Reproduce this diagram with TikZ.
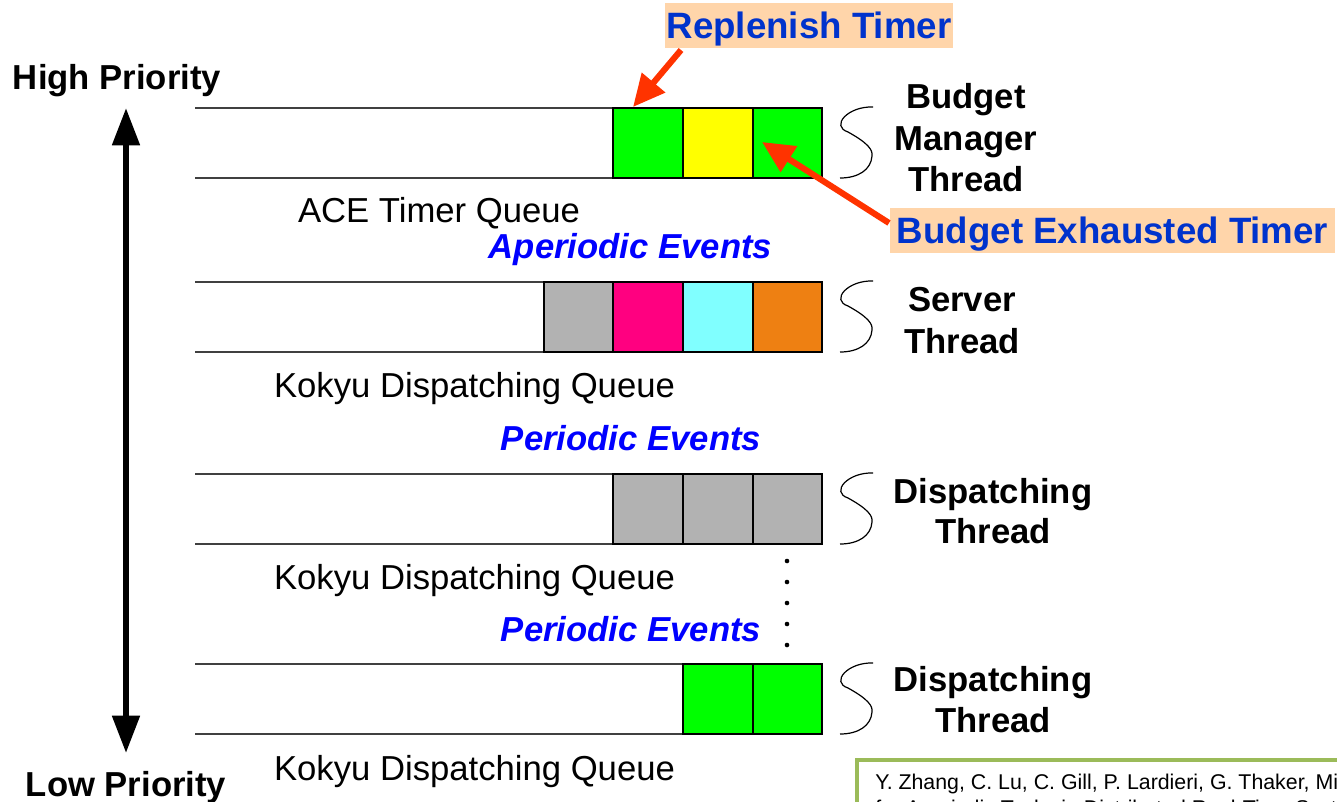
\documentclass[tikz,border=0pt]{standalone}
\usepackage{fontspec}
\setmainfont{Liberation Sans}
\usetikzlibrary{arrows.meta}
\definecolor{qgreen}{RGB}{0,255,0}
\definecolor{qyellow}{RGB}{255,255,0}
\definecolor{qgray}{RGB}{178,178,178}
\definecolor{qmagenta}{RGB}{255,0,128}
\definecolor{qcyan}{RGB}{128,255,255}
\definecolor{qorange}{RGB}{238,128,18}
\definecolor{peach}{RGB}{255,213,170}
\definecolor{tblue}{RGB}{0,51,204}
\definecolor{eblue}{RGB}{0,0,255}
\definecolor{ared}{RGB}{255,51,0}
\definecolor{cgreen}{RGB}{155,187,89}
\tikzset{
  qline/.style={line width=1.5pt, draw=black!75},
  cell/.style={draw=black, line width=1.3pt, minimum width=52.2pt, minimum height=52.5pt, inner sep=0pt},
  lab/.style={font=\fontsize{26}{31}\selectfont\bfseries, anchor=base, inner sep=0pt},
  qlab/.style={font=\fontsize{26}{31}\selectfont, anchor=base, inner sep=0pt},
  evlab/.style={font=\fontsize{26}{31}\selectfont\bfseries\itshape, text=eblue, anchor=base, inner sep=0pt},
  tlab/.style={font=\fontsize{27.5}{33}\selectfont\bfseries, text=tblue, fill=peach, minimum height=33.75pt, inner ysep=0pt, text depth=0pt},
  redarrow/.style={draw=ared, line width=4.6pt, -{Triangle[length=24pt,width=22pt]}},
  prio/.style={line width=4.5pt, {Triangle[length=28pt,width=20pt]}-{Triangle[length=28pt,width=20pt]}},
  sbrace/.style={draw=black, line width=0.9pt},
}
\begin{document}
\begin{tikzpicture}[x=0.75pt,y=-0.75pt]
\useasboundingbox (0,0) rectangle (1337,801);
\clip (0,0) rectangle (1337,801);

% priority arrow
\coordinate (ptop) at (126,108);
\coordinate (pbot) at (126,753);
\draw[prio] (pbot) -- (ptop);
\node[lab] (hp) at (117,89) {High Priority};
\node[lab] (lp) at (126,796) {Low Priority};

% queue lines and S-braces
\foreach \y/\n in {108/1,282/2,474/3,664/4}{
  \draw[qline] (195,\y) -- (822,\y);
  \draw[qline] (195,\y+70) -- (822,\y+70);
  \draw[sbrace] (873,\y-1) .. controls (848,\y-2) and (830,\y+18) .. (848,\y+24)
     .. controls (868,\y+35) and (873,\y+42) .. (872,\y+48)
     .. controls (871,\y+62) and (858,\y+70) .. (840,\y+70);
}

% queue 1 cells
\node[cell, fill=qgreen]  (c11) at (648,143) {};
\node[cell, fill=qyellow] (c12) at (718,143) {};
\node[cell, fill=qgreen]  (c13) at (787.5,143) {};
% queue 2 cells
\node[cell, fill=qgray]    (c21) at (578.5,317) {};
\node[cell, fill=qmagenta] (c22) at (648,317) {};
\node[cell, fill=qcyan]    (c23) at (718,317) {};
\node[cell, fill=qorange]  (c24) at (787.5,317) {};
% queue 3 cells
\node[cell, fill=qgray] (c31) at (648,509) {};
\node[cell, fill=qgray] (c32) at (718,509) {};
\node[cell, fill=qgray] (c33) at (787.5,509) {};
% queue 4 cells
\node[cell, fill=qgreen] (c41) at (718,699) {};
\node[cell, fill=qgreen] (c42) at (787.5,699) {};

% queue labels
\node[qlab] (q1) at (439,222) {ACE Timer Queue};
\node[qlab] (q2) at (474.5,397) {Kokyu Dispatching Queue};
\node[qlab] (q3) at (474.5,589) {Kokyu Dispatching Queue};
\node[qlab] (q4) at (474.5,780) {Kokyu Dispatching Queue};

\node[evlab] (e1) at (630.5,258) {Aperiodic Events};
\node[evlab] (e2) at (631,450) {Periodic Events};
\node[evlab] (e3) at (631,641) {Periodic Events};

% thread labels
\node[lab] (t1a) at (966,108) {Budget};
\node[lab] (t1b) at (966,150) {Manager};
\node[lab] (t1c) at (966,191) {Thread};
\node[lab] (t2a) at (962,311) {Server};
\node[lab] (t2b) at (962,353) {Thread};
\node[lab] (t3a) at (993,503) {Dispatching};
\node[lab] (t3b) at (993,543) {Thread};
\node[lab] (t4a) at (993,691) {Dispatching};
\node[lab] (t4b) at (993,732) {Thread};

% dots
\foreach \y in {561,582,603,624,645}{
  \fill (787,\y) circle[radius=2.3];
}

% timer labels
\node[tlab, minimum width=216pt, inner xsep=0pt] (rep) at (809,25.5) {Replenish Timer};
\node[tlab, anchor=west, inner xsep=5pt] (bex) at (890,230.5) {Budget Exhausted Timer};
\coordinate (repfrom) at (681,50);
\coordinate (repto) at (633,107);
\coordinate (bexfrom) at (889,223);
\coordinate (bexto) at (762,142);
\draw[redarrow] (repfrom) -- (repto);
\draw[redarrow] (bexfrom) -- (bexto);

% citation box
\node[draw=cgreen, line width=3pt, fill=white, anchor=north west, minimum width=450pt, minimum height=80pt] (cite) at (855,758) {};
\node[anchor=base west, inner sep=0pt, font=\fontsize{16}{20}\selectfont] (cite1) at (875,789) {Y. Zhang, C. Lu, C. Gill, P. Lardieri, G. Thaker, Mike Masters};
\node[anchor=base west, inner sep=0pt, font=\fontsize{16}{20}\selectfont] (cite2) at (875,815) {for Aperiodic Tasks in Distributed Real-Time Systems};
\end{tikzpicture}
\end{document}
